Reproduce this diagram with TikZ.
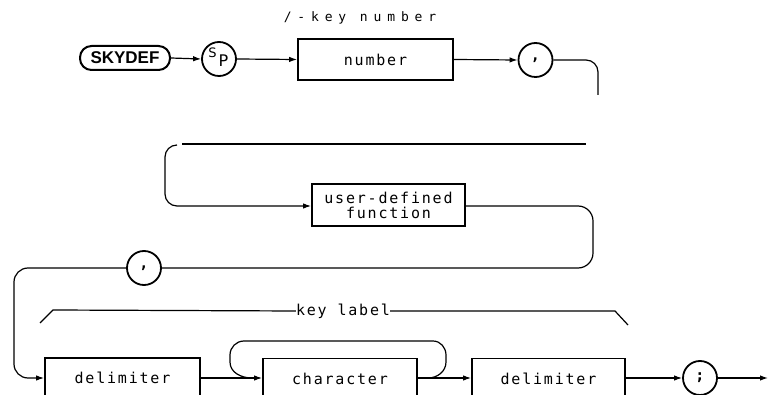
\documentclass[tikz,border=0pt]{standalone}
\usepackage{fontspec}
\setmainfont{DejaVu Sans Mono}
\newfontfamily\lblfont{DejaVu Sans Mono}[LetterSpace=12]
\newfontfamily\widefont{DejaVu Sans Mono}[LetterSpace=45]
\newfontfamily\boldfont{Liberation Sans Bold}
\newfontfamily\plainsans{DejaVu Sans}
\usetikzlibrary{arrows.meta}
\tikzset{
  box/.style={draw, line width=1.8pt, rectangle, inner sep=0pt, font=\lblfont\fontsize{15}{16}\selectfont},
  term/.style={draw, line width=1.8pt, circle, inner sep=0pt, minimum size=34pt},
  conn/.style={line width=1.2pt},
  arr/.style={conn, -{Latex[length=8pt,width=5.5pt]}},
  lab/.style={inner sep=0pt, font=\lblfont\fontsize{15}{16}\selectfont}
}
\begin{document}
\begin{tikzpicture}[x=1pt,y=-1pt]
\useasboundingbox (0,0) rectangle (769,395);
\clip (0,0) rectangle (769,395);
% row 1
\node[draw, line width=2pt, rounded corners=11.5pt, minimum width=90pt, minimum height=24pt, inner sep=0pt,
      font=\boldfont\fontsize{17}{18}\selectfont] (skydef) at (125,58) {SKYDEF};
\node[term] (sp) at (219,59) {};
\node[inner sep=0pt, font=\plainsans\fontsize{13}{14}\selectfont] (spS) at (212.5,53) {S};
\node[inner sep=0pt, font=\plainsans\fontsize{16}{17}\selectfont] (spP) at (223.5,61) {P};
\node[box, minimum width=155pt, minimum height=41pt] (number) at (375.5,59.5) {number};
\node[term] (comma1) at (535.5,60) {\fontsize{15}{15}\selectfont\bfseries ,};
\node[inner sep=0pt, font=\widefont\fontsize{13}{14}\selectfont] (keynum) at (360,18) {/-key number};
\coordinate (e1) at (598,95);
\draw[arr] (skydef.east) -- (sp.west);
\draw[arr] (sp.east) -- (number.west);
\draw[arr] (number.east) -- (comma1.west);
\draw[conn, rounded corners=12pt] (comma1.east) -- (598,60) -- (e1);
% row 2
\coordinate (t1) at (182,144);
\coordinate (t2) at (586,144);
\draw[line width=2.4pt] (t1) -- (t2);
\node[box, minimum width=153pt, minimum height=42pt, align=center,
      font=\lblfont\fontsize{15}{15}\selectfont] (ud) at (388.5,205) {user-defined\\function};
\coordinate (c0) at (177,145);
\draw[arr, rounded corners=12pt] (c0) -- (165,145) -- (165,206) -- (ud.west |- 0,206);
\node[term] (comma2) at (144,268) {\fontsize{15}{15}\selectfont\bfseries ,};
\draw[conn, rounded corners=15pt] (ud.east |- 0,206) -- (593,206) -- (593,268) -- (comma2.east);
% row 3
\node[box, minimum width=155pt, minimum height=40pt] (delim1) at (122.5,378) {delimiter};
\node[box, minimum width=154pt, minimum height=40pt] (char) at (340,378.5) {character};
\node[box, minimum width=153pt, minimum height=40pt] (delim2) at (548.5,378.5) {delimiter};
\node[term] (semi) at (700,378) {\fontsize{15}{15}\selectfont\bfseries ;};
\coordinate (endpt) at (768,378);
\draw[arr, rounded corners=14pt] (comma2.west) -- (14,268) -- (14,378) -- (delim1.west);
\draw[arr] (delim1.east) -- (char.west |- 0,378);
\draw[arr] (char.east |- 0,378) -- (delim2.west |- 0,378);
\draw[arr] (delim2.east |- 0,378) -- (semi.west);
\draw[arr] (semi.east) -- (endpt);
% repeat loop around character
\coordinate (l1) at (428,378);
\coordinate (l2) at (252,378);
\draw[conn] (l1) to[out=0,in=-90] (446,362) -- (446,355) to[out=90,in=0] (433,341)
  -- (244,341) to[out=180,in=90] (230,355) -- (230,362) to[out=-90,in=180] (l2);
% key label bracket
\node[lab] (kl) at (343,311) {key label};
\draw[conn] (40,323) -- (53,310) -- (kl.west);
\draw[conn] (kl.east) -- (615,311) -- (628,325);
\end{tikzpicture}
\end{document}
